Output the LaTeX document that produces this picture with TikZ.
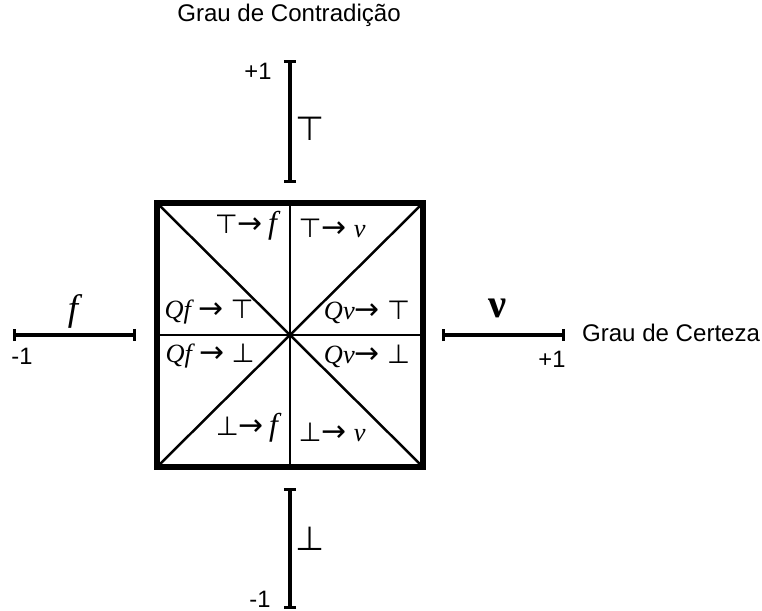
\documentclass[tikz,border=0pt]{standalone}
\usepackage{fontspec}
\setmainfont{Liberation Sans}
\newfontfamily\symfont{DejaVu Sans}
\newfontfamily\itfont{Liberation Serif}
\usetikzlibrary{arrows.meta, positioning, calc}

\newcommand{\topsym}{{\symfont\fontsize{15}{17}\selectfont ⊤}}
\newcommand{\botsym}{{\symfont\fontsize{15}{17}\selectfont ⊥}}
\newcommand{\arr}{{\symfont\fontsize{17}{19}\selectfont →}}
\newcommand{\itf}{{\itfont\itshape f}}
\newcommand{\itv}{{\itfont\itshape v}}
\newcommand{\itQ}{{\itfont\itshape Q}}

\begin{document}
\begin{tikzpicture}[
	x=0.02cm, y=-0.02cm,
	% Line styles
	frame/.style={line width=3.2pt},
	cut/.style={line width=1.4pt},
	bar/.style={line width=1.8pt, {Bar[width=7pt]}-{Bar[width=7pt]}},
	% Text styles
	axis label/.style={font=\fontsize{13.7}{15}\selectfont, inner sep=1pt},
	end label/.style={font=\fontsize{13.5}{15}\selectfont, inner sep=1pt},
	state label/.style={font=\fontsize{15}{17}\selectfont, inner sep=1pt},
	big label/.style={font=\itfont\fontsize{21}{23}\selectfont, inner sep=1pt}
	]
	
	\useasboundingbox (0,0) rectangle (762,611);
	
	% ==============================================================================
	% SQUARE
	% ==============================================================================
	\coordinate (NW) at (157,203);
	\coordinate (NE) at (423,203);
	\coordinate (SE) at (423,467);
	\coordinate (SW) at (157,467);
	\coordinate (C) at ($(NW)!0.5!(SE)$);
	
	\draw[cut] (NW) -- (SE);
	\draw[cut] (NE) -- (SW);
	\draw[cut] ($(NW)!0.5!(NE)$) -- ($(SW)!0.5!(SE)$);
	\draw[cut] ($(NW)!0.5!(SW)$) -- ($(NE)!0.5!(SE)$);
	\draw[frame] (NW) rectangle (SE);
	
	\node[state label, font=\fontsize{18}{20}\selectfont] (tf) at (246,226) {\topsym\arr\,\itf};
	\node[state label] (tv) at (332,228) {\topsym\arr\;\itv};
	\node[state label] (qft) at (209,312) {\itQ\itf\;\arr\;\topsym};
	\node[state label] (qvt) at (367,312) {\itQ\itv\arr\;\topsym};
	\node[state label] (qfb) at (210,356) {\itQ\itf\;\arr\;\botsym};
	\node[state label] (qvb) at (367,356) {\itQ\itv\arr\;\botsym};
	\node[state label, font=\fontsize{18}{20}\selectfont] (bf) at (247,428) {\botsym\arr\,\itf};
	\node[state label] (bv) at (332,432) {\botsym\arr\;\itv};
	
	% ==============================================================================
	% AXES
	% ==============================================================================
	\coordinate (top1) at (290,60);
	\coordinate (top2) at (290,183);
	\coordinate (bot1) at (290,488);
	\coordinate (bot2) at (290,609);
	\coordinate (lft1) at (13,335);
	\coordinate (lft2) at (136,335);
	\coordinate (rgt1) at (442,335);
	\coordinate (rgt2) at (565,335);
	
	\draw[bar] (top1) -- (top2);
	\draw[bar] (bot1) -- (bot2);
	\draw[bar] (lft1) -- (lft2);
	\draw[bar] (rgt1) -- (rgt2);
	
	\node[axis label] (contr) at (289,15) {Grau de Contradição};
	\node[axis label, anchor=west] (cert) at (580,333) {Grau de Certeza};
	
	\node[end label] (topval) at (258,71) {+1};
	\node[end label] (botval) at (260,599) {-1};
	\node[end label] (lftval) at (22,356) {-1};
	\node[end label] (rgtval) at (552,359) {+1};
	
	\node[font=\symfont\fontsize{19}{21}\selectfont, inner sep=1pt] (topsym) at (310,129) {⊤};
	\node[font=\symfont\fontsize{19}{21}\selectfont, inner sep=1pt] (botsym) at (310,539) {⊥};
	\node[big label] (fsym) at (73,311) {\itshape f};
	\node[big label, font=\itfont\bfseries\fontsize{23}{25}\selectfont] (nusym) at (498,308) {ν};
	
\end{tikzpicture}
\end{document}
